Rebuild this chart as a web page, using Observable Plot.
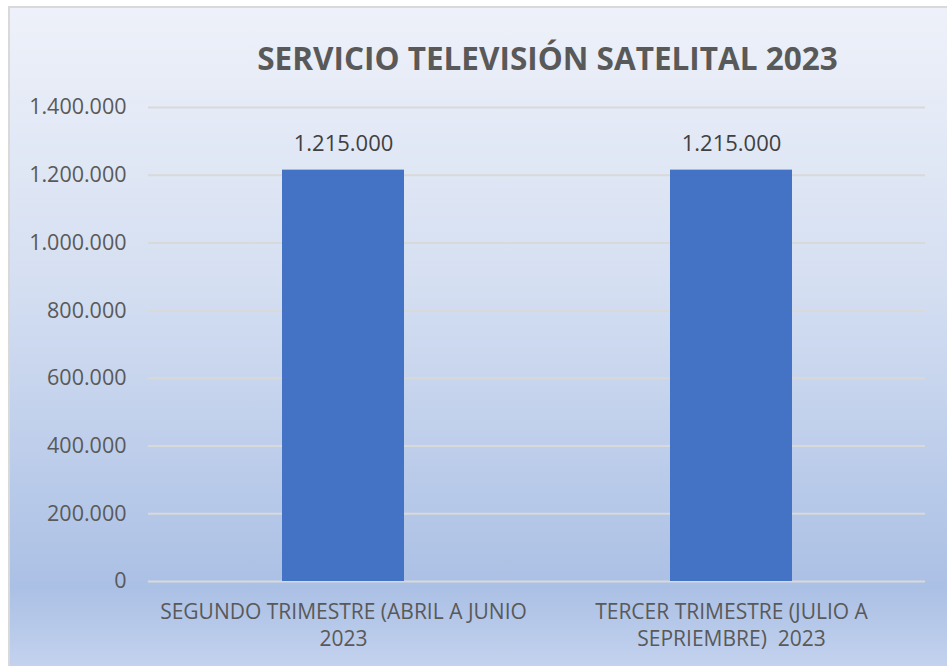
<!DOCTYPE html>
<html>
<head>
<meta charset="utf-8">
<script src="https://cdn.jsdelivr.net/npm/d3@7"></script>
<script src="https://cdn.jsdelivr.net/npm/@observablehq/plot@0.6"></script>
<style>
  html, body { margin: 0; padding: 0; background: #ffffff; width: 947px; height: 666px; overflow: hidden; }
  #frame {
    position: absolute; left: 8px; top: 6px; width: 937px; height: 658px;
    border-left: 2px solid #d9d9d9; border-top: 2px solid #d9d9d9;
    background: linear-gradient(to bottom, #eef1f9 0%, #d6e0f2 40%, #abc0e5 88%, #c3d2ee 100%);
  }
  #title {
    height: 90px; box-sizing: border-box; padding-top: 31px; padding-left: 138px;
    text-align: center; font-family: "Open Sans", sans-serif; font-weight: 700;
    font-size: 31.5px; line-height: 38px; color: #595959; white-space: nowrap;
  }
  #chart svg { display: block; overflow: visible; }
</style>
</head>
<body>
<div id="frame">
  <div id="title">SERVICIO TELEVISIÓN SATELITAL 2023</div>
  <div id="chart"></div>
</div>
<script>
const categories = ["SEGUNDO TRIMESTRE (ABRIL A JUNIO\n2023", "TERCER TRIMESTRE (JULIO A\nSEPRIEMBRE)  2023"];
const values = [1215000, 1215000];
const yTicks = [0, 200000, 400000, 600000, 800000, 1000000, 1200000, 1400000];

const data = categories.map((c, i) => ({cat: c, value: values[i]}));
const loc = d3.formatLocale({decimal: ",", thousands: ".", grouping: [3], currency: ["", ""]});
const fmt = loc.format(",d");

const chart = Plot.plot({
  width: 937,
  height: 569,
  marginTop: 9,
  marginBottom: 86,
  marginLeft: 138,
  marginRight: 22,
  style: {background: "transparent", fontFamily: "'Open Sans', sans-serif", color: "#595959", overflow: "visible"},
  x: {domain: categories, padding: 0, label: null},
  y: {domain: [0, 1400000], label: null},
  marks: [
    Plot.gridY(yTicks, {stroke: "#d9d9d9", strokeOpacity: 1, strokeWidth: 2}),
    Plot.barY(data, {x: "cat", y: "value", fill: "#4472c4", insetLeft: 133, insetRight: 133}),
    Plot.text(data, {x: "cat", y: "value", text: d => fmt(d.value), dy: -26, fontSize: 22, fill: "#404040"}),
    Plot.axisY(yTicks, {tickSize: 0, tickPadding: 22, tickFormat: fmt, fontSize: 21.5, fill: "#595959"}),
    Plot.axisX({tickSize: 0, tickPadding: 18, fontSize: 21, lineHeight: 1.3, fill: "#595959", lineAnchor: "top"})
  ]
});
document.getElementById("chart").appendChild(chart);
</script>
</body>
</html>
